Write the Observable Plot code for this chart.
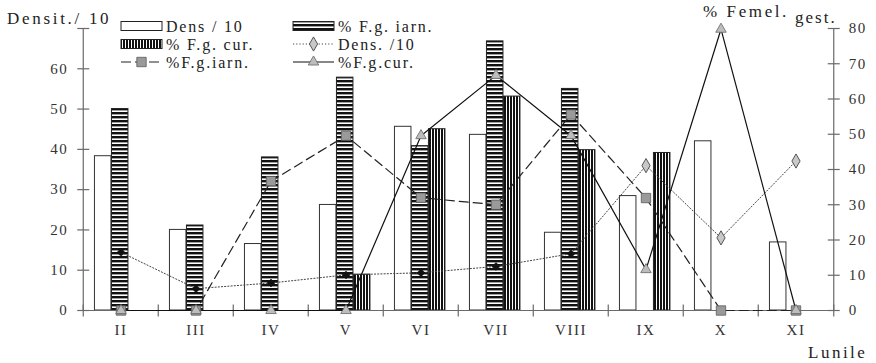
<!DOCTYPE html>
<html>
<head>
<meta charset="utf-8">
<script src="https://cdn.jsdelivr.net/npm/d3@7"></script>
<script src="https://cdn.jsdelivr.net/npm/@observablehq/plot@0.6"></script>
<style>
  body { margin: 0; background: #fff; }
  #chart { width: 876px; height: 363px; }
  #chart svg text { font-family: "Liberation Serif", "Times New Roman", serif !important; }
</style>
</head>
<body>
<div id="chart"></div>
<script>
// Months of the sampling season
const months = ["II", "III", "IV", "V", "VI", "VII", "VIII", "IX", "X", "XI"];

// Bars, read on the left axis (Densit./ 10)
const densBars = [38.3, 20.0, 16.5, 26.2, 45.6, 43.6, 19.3, 28.4, 42.0, 16.9];
const iarnBars = [50.0, 21.1, 38.0, 57.8, 40.8, 66.8, 55.0, 0, 0, 0];
const curBars  = [0, 0, 0, 8.9, 45.0, 53.1, 39.8, 39.1, 0, 0];

// Lines, read on the right axis (% Femel. gest.)
const densLine = [16.5, 6.2, 7.8, 10.1, 10.7, 12.5, 16.1, 41.1, 20.6, 42.4];
const iarnLine = [0, 0, 36.7, 49.6, 32.0, 30.0, 55.6, 31.9, 0, 0];
const curLine  = [0, 0, 0, 0, 49.6, 66.7, 49.6, 11.6, 79.8, 0];
// months whose density markers are drawn as open grey diamonds
const densGreyMonths = ["IX", "X", "XI"];

// Axis ticks
const leftTicks = [0, 10, 20, 30, 40, 50, 60, 70];
const rightTicks = [0, 10, 20, 30, 40, 50, 60, 70, 80];

// Legend entries
const legendItems = [
  {label: "Dens / 10", kind: "bar-white"},
  {label: "% F.g. iarn.", kind: "bar-h"},
  {label: "% F.g. cur.", kind: "bar-v"},
  {label: "Dens. /10", kind: "line-dens"},
  {label: "%F.g.iarn.", kind: "line-iarn"},
  {label: "%F.g.cur.", kind: "line-cur"}
];

const W = 876, H = 363;
const M = {top: 28, right: 41, bottom: 53, left: 80};
const leftMax = 70, rightMax = 80;
const toLeft = leftMax / rightMax;            // right-axis units -> left-axis units
const band = (W - M.left - M.right) / months.length;
const barW = 17;
const groupOff = (band - 3 * barW) / 2 - 0.8;
const axisColor = "#6a6a6a";
const ink = "#222";
const labelFont = {fontSize: 15, fill: "#333"};

// short crossing tick marks drawn as custom symbols
const hTick = {draw(ctx) { ctx.moveTo(-6, 0); ctx.lineTo(6, 0); }};
const vTick = {draw(ctx) { ctx.moveTo(0, -6); ctx.lineTo(0, 6); }};

const barRows = (vals) => months.map((month, i) => ({month, value: vals[i]})).filter(d => d.value > 0);
const lineRows = (vals) => months.map((month, i) => ({month, value: vals[i] * toLeft}));

function bars(vals, k, style) {
  const insetLeft = groupOff + k * barW;
  return Plot.barY(barRows(vals), {
    x: "month", y: "value",
    insetLeft, insetRight: band - insetLeft - barW,
    strokeWidth: 1, ...style
  });
}

const densRows = lineRows(densLine);
const first = months[0], last = months[months.length - 1];
const rightRows = rightTicks.map(v => ({tick: v, pos: v * toLeft}));

const plot = Plot.plot({
  width: W, height: H,
  marginTop: M.top, marginRight: M.right, marginBottom: M.bottom, marginLeft: M.left,
  style: {fontSize: "15px", color: ink, background: "#fff", letterSpacing: "1.5px"},
  x: {type: "band", domain: months, padding: 0, axis: null},
  y: {domain: [0, leftMax], axis: null},
  marks: [
    bars(densBars, 0, {fill: "#fff", stroke: "#333"}),
    bars(iarnBars, 1, {fill: "url(#hstripe)", stroke: "#222"}),
    bars(curBars, 2, {fill: "url(#vstripe)", stroke: "#222"}),

    // axis lines
    Plot.ruleY([0], {stroke: axisColor, strokeWidth: 1.2}),
    Plot.ruleX([first], {y1: 0, y2: leftMax, dx: -band / 2, stroke: axisColor, strokeWidth: 1.2}),
    Plot.ruleX([last], {y1: 0, y2: leftMax, dx: band / 2, stroke: axisColor, strokeWidth: 1.2}),

    // tick marks
    Plot.dot(leftTicks, {x: () => first, y: d => d, dx: -band / 2, symbol: hTick, stroke: axisColor, strokeWidth: 1.2}),
    Plot.dot(rightRows, {x: () => last, y: "pos", dx: band / 2, symbol: hTick, stroke: axisColor, strokeWidth: 1.2}),
    Plot.dot(months, {x: d => d, y: () => 0, dx: -band / 2, symbol: vTick, stroke: axisColor, strokeWidth: 1.2}),
    Plot.dot([last], {x: d => d, y: () => 0, dx: band / 2, symbol: vTick, stroke: axisColor, strokeWidth: 1.2}),

    // tick labels
    Plot.text(leftTicks.filter(v => v < leftMax), {x: () => first, y: d => d, dx: -band / 2 - 15, textAnchor: "end", text: d => String(d), ...labelFont}),
    Plot.text(rightRows, {x: () => last, y: "pos", dx: band / 2 + 15, textAnchor: "start", text: d => String(d.tick), ...labelFont}),
    Plot.text(months, {x: d => d, y: () => 0, dy: 20, text: d => d, ...labelFont}),

    // lines
    Plot.line(densRows, {x: "month", y: "value", stroke: "#444", strokeWidth: 1, strokeDasharray: "1.2,2"}),
    Plot.line(lineRows(iarnLine), {x: "month", y: "value", stroke: "#222", strokeWidth: 1.2, strokeDasharray: "9,5"}),
    Plot.line(lineRows(curLine), {x: "month", y: "value", stroke: "#111", strokeWidth: 1.2}),

    // markers
    Plot.dot(lineRows(iarnLine), {x: "month", y: "value", symbol: "square", r: 5.3, fill: "#9a9a9a", stroke: "#5a5a5a", strokeWidth: 0.8}),
    Plot.dot(lineRows(curLine), {x: "month", y: "value", symbol: "triangle", r: 3.9, fill: "#bdbdbd", stroke: "#666", strokeWidth: 0.8}),
    Plot.dot(densRows.filter(d => !densGreyMonths.includes(d.month)), {x: "month", y: "value", symbol: "diamond2", r: 3.6, fill: "#111", stroke: "#111", strokeWidth: 0.5}),
    Plot.dot(densRows.filter(d => densGreyMonths.includes(d.month)), {x: "month", y: "value", symbol: "diamond", r: 4.3, fill: "#c8c8c8", stroke: "#444", strokeWidth: 0.9})
  ]
});

const svg = d3.select(plot);

// stripe fills for the bars
const defs = svg.insert("defs", ":first-child");
const hp = defs.append("pattern").attr("id", "hstripe").attr("patternUnits", "userSpaceOnUse").attr("width", 4).attr("height", 4);
hp.append("rect").attr("width", 4).attr("height", 4).attr("fill", "#fff");
hp.append("rect").attr("width", 4).attr("height", 2.4).attr("fill", "#111");
const vp = defs.append("pattern").attr("id", "vstripe").attr("patternUnits", "userSpaceOnUse").attr("width", 3).attr("height", 3);
vp.append("rect").attr("width", 3).attr("height", 3).attr("fill", "#fff");
vp.append("rect").attr("width", 2).attr("height", 3).attr("fill", "#111");

// axis titles
function title(text, x, y, size, spacing) {
  svg.append("text").attr("x", x).attr("y", y).attr("fill", ink).attr("text-anchor", "start")
    .style("font-size", size + "px").style("letter-spacing", spacing + "px").text(text);
}
title("Densit./ 10", 7, 24, 17, 2.7);
title("% Femel.", 703, 17, 17, 2.6);
title("gest.", 795, 23, 17, 2);
title("Lunile", 808, 358, 17, 2.5);

// legend
const lg = svg.append("g").attr("class", "legend");
const colX = [121, 293], rowY = [26, 44, 62], swW = 41;
legendItems.forEach((item, i) => {
  const cx = colX[i % 2], cy = rowY[Math.floor(i / 2)];
  const g = lg.append("g");
  if (item.kind.startsWith("bar")) {
    g.append("rect").attr("x", cx).attr("y", cy - 4.5).attr("width", swW).attr("height", 9)
      .attr("fill", item.kind === "bar-white" ? "#fff" : item.kind === "bar-h" ? "url(#hstripe)" : "url(#vstripe)")
      .attr("stroke", "#222").attr("stroke-width", 1);
  } else {
    const mid = cx + swW / 2;
    const line = g.append("line").attr("x1", cx).attr("x2", cx + swW).attr("y1", cy).attr("y2", cy);
    if (item.kind === "line-dens") {
      line.attr("stroke", "#444").attr("stroke-dasharray", "1.2,2");
      g.append("path").attr("d", d3.symbol(d3.symbolDiamond, 4.3 * 4.3 * Math.PI)()).attr("transform", `translate(${mid},${cy})`)
        .attr("fill", "#c8c8c8").attr("stroke", "#444").attr("stroke-width", 0.9);
    } else if (item.kind === "line-iarn") {
      line.attr("stroke", "#222").attr("stroke-width", 1.2).attr("stroke-dasharray", "10,4");
      g.append("path").attr("d", d3.symbol(d3.symbolSquare, 5.3 * 5.3 * Math.PI)()).attr("transform", `translate(${mid},${cy})`)
        .attr("fill", "#9a9a9a").attr("stroke", "#5a5a5a").attr("stroke-width", 0.8);
    } else {
      line.attr("stroke", "#111").attr("stroke-width", 1.2);
      g.append("path").attr("d", d3.symbol(d3.symbolTriangle, 3.9 * 3.9 * Math.PI)()).attr("transform", `translate(${mid},${cy})`)
        .attr("fill", "#bdbdbd").attr("stroke", "#666").attr("stroke-width", 0.8);
    }
  }
  g.append("text").attr("x", cx + swW + 4).attr("y", cy + 5.5).attr("fill", ink).attr("text-anchor", "start")
    .style("font-size", "16px").style("letter-spacing", "1.8px").text(item.label);
});

document.getElementById("chart").appendChild(plot);
</script>
</body>
</html>
